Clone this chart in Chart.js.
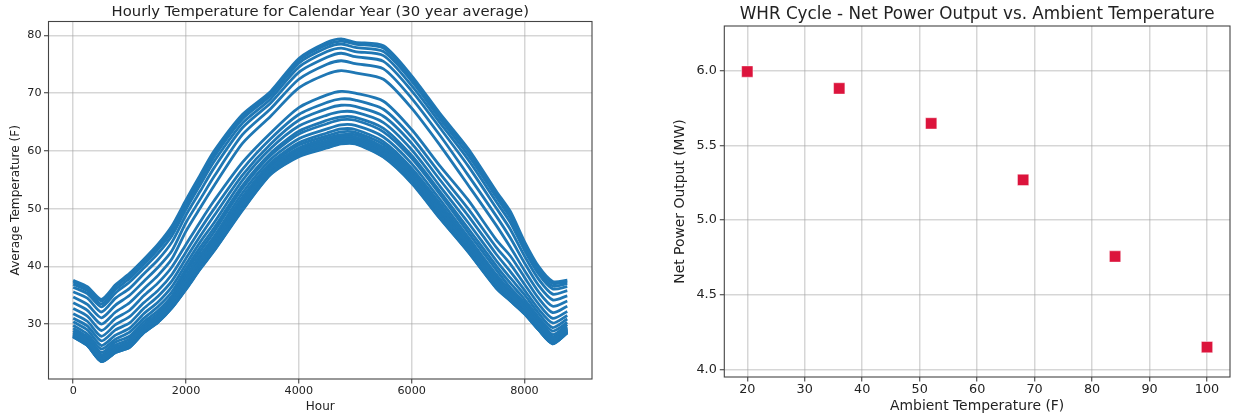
<!DOCTYPE html>
<html><head><meta charset="utf-8">
<script src="https://cdn.jsdelivr.net/npm/chart.js@4"></script>
<style>
html,body{margin:0;padding:0;background:#fff;width:1233px;height:419px;overflow:hidden}
#c1{position:absolute;left:0;top:0}
#c2{position:absolute;left:620px;top:0}
</style></head><body>
<canvas id="c1" width="600" height="419"></canvas>
<canvas id="c2" width="613" height="419"></canvas>
<script>
// ---- Left chart data (hour of year, average temperature of each daily-hour curve) ----
const hours = [0,250,500,750,1000,1250,1500,1750,2000,2250,2500,3000,3500,4000,4500,4750,5000,5500,6000,6500,7000,7500,7750,8000,8250,8500,8759];
const curve01 = [37.6,36.5,34.3,36.8,38.8,41.2,43.8,47.0,51.5,55.8,60.0,66.3,70.3,76.0,78.8,79.4,78.8,78.2,73.0,66.5,60.4,53.0,49.5,44.3,40.0,37.4,37.6];
const curve02 = [37.3,36.2,34.0,36.5,38.4,40.8,43.4,46.6,51.1,55.4,59.6,66.0,70.0,75.7,78.4,79.0,78.5,77.8,72.6,66.1,60.0,52.6,49.0,43.9,39.7,37.1,37.3];
const curve03 = [36.9,35.8,33.5,36.0,37.9,40.3,42.9,46.0,50.6,54.8,59.0,65.5,69.6,75.2,77.9,78.5,77.9,77.2,72.1,65.6,59.3,52.0,48.4,43.4,39.2,36.6,37.0];
const curve04 = [36.4,35.3,33.0,35.4,37.3,39.7,42.2,45.3,49.9,54.1,58.2,64.8,69.0,74.5,77.2,77.8,77.2,76.5,71.3,64.9,58.5,51.2,47.6,42.8,38.7,36.1,36.5];
const curve05 = [35.6,34.5,32.1,34.5,36.2,38.7,41.1,44.2,48.9,53.0,57.1,64.0,68.3,73.6,76.2,76.9,76.3,75.5,70.4,64.0,57.4,50.1,46.4,41.8,37.8,35.2,35.8];
const curve06 = [34.7,33.4,31.1,33.3,35.0,37.4,39.8,42.7,47.6,51.6,55.6,62.8,67.3,72.4,75.0,75.6,75.1,74.2,69.1,62.7,55.8,48.7,44.9,40.6,36.7,34.2,34.9];
const curve07 = [33.7,32.4,30.0,32.1,33.7,36.1,38.4,41.3,46.1,50.1,54.0,61.3,66.0,70.9,73.3,73.9,73.5,72.4,67.4,61.0,54.1,47.1,43.3,39.3,35.6,33.1,34.0];
const curve08 = [32.7,31.4,28.9,31.0,32.4,34.9,37.1,39.9,43.8,47.7,51.4,58.0,63.1,67.5,69.7,70.3,70.0,68.6,63.7,57.4,51.5,44.6,41.8,38.1,34.5,32.0,33.1];
const curve09 = [31.8,30.5,27.9,29.9,31.3,33.7,35.8,38.6,42.5,46.4,50.0,56.8,62.1,66.3,68.4,69.0,68.8,67.2,62.4,56.1,50.0,43.3,40.4,36.9,33.5,31.0,32.2];
const curve10 = [31.0,29.7,27.1,29.0,30.2,32.7,34.8,37.5,41.4,45.2,48.8,55.8,61.2,65.3,67.3,67.9,67.7,66.0,61.3,55.0,48.8,42.1,39.1,35.9,32.6,30.2,31.5];
const curve11 = [30.4,29.0,26.3,28.1,29.3,31.8,33.8,36.5,40.4,44.2,47.6,54.9,60.4,64.3,66.2,66.8,66.7,64.9,60.2,53.9,47.6,41.0,38.0,35.1,31.9,29.4,30.9];
const curve12 = [29.8,28.3,25.7,27.4,28.6,31.0,33.0,35.6,39.6,43.3,46.7,54.0,59.6,63.4,65.3,65.9,65.8,63.9,59.2,53.0,46.6,40.1,37.1,34.3,31.2,28.8,30.3];
const curve13 = [29.3,27.8,25.1,26.9,27.9,30.4,32.3,34.9,39.0,42.6,46.0,53.5,59.2,62.9,64.7,65.4,65.3,63.3,58.7,52.5,45.9,39.4,36.3,33.7,30.7,28.2,29.9];
const curve14 = [28.9,27.4,24.7,26.4,27.4,29.9,31.8,34.4,38.3,41.9,45.2,52.7,58.5,62.1,63.8,64.5,64.4,62.4,57.8,51.6,45.1,38.6,35.7,33.2,30.2,27.8,29.5];
const curve15 = [28.6,27.1,24.4,26.0,27.0,29.5,31.4,33.9,37.7,41.3,44.6,52.0,57.9,61.4,63.1,63.8,63.7,61.6,57.0,50.9,44.5,38.1,35.2,32.8,29.9,27.5,29.2];
const curve16 = [28.4,26.9,24.2,25.8,26.8,29.3,31.1,33.7,37.4,40.9,44.2,51.6,57.6,61.0,62.6,63.3,63.2,61.1,56.5,50.4,44.1,37.7,34.9,32.6,29.7,27.3,29.1];
const curve17 = [28.2,26.8,24.0,25.6,26.6,29.1,30.9,33.4,37.1,40.6,43.9,51.2,57.2,60.5,62.2,62.8,62.8,60.6,56.1,49.9,43.7,37.3,34.7,32.4,29.5,27.1,28.9];
const curve18 = [28.1,26.7,23.9,25.5,26.5,28.9,30.8,33.3,36.8,40.4,43.6,50.9,56.9,60.2,61.8,62.5,62.4,60.3,55.7,49.6,43.5,37.1,34.5,32.2,29.4,27.0,28.8];
const curve19 = [28.1,26.6,23.8,25.4,26.3,28.8,30.6,33.2,36.6,40.2,43.4,50.6,56.7,59.9,61.5,62.2,62.2,60.0,55.4,49.3,43.2,36.9,34.4,32.1,29.3,26.9,28.7];
const curve20 = [28.0,26.5,23.7,25.3,26.2,28.7,30.5,33.1,36.5,40.0,43.2,50.4,56.5,59.7,61.2,61.9,61.9,59.7,55.1,49.0,43.0,36.7,34.3,32.0,29.2,26.8,28.7];
const curve21 = [27.9,26.4,23.6,25.2,26.2,28.7,30.5,33.0,36.3,39.8,43.1,50.2,56.3,59.5,61.1,61.8,61.7,59.5,55.0,48.9,42.9,36.6,34.2,32.0,29.1,26.7,28.6];
const curve22 = [27.9,26.4,23.6,25.2,26.1,28.6,30.4,32.9,36.2,39.7,42.9,50.0,56.1,59.3,60.8,61.5,61.5,59.2,54.7,48.6,42.7,36.4,34.1,31.9,29.1,26.7,28.6];
const curve23 = [27.8,26.3,23.5,25.1,26.0,28.5,30.3,32.8,36.1,39.6,42.8,49.8,56.0,59.1,60.6,61.3,61.3,59.0,54.5,48.4,42.6,36.3,34.1,31.8,29.0,26.6,28.5];
const curve24 = [27.8,26.3,23.5,25.1,26.0,28.5,30.3,32.8,36.0,39.5,42.7,49.7,55.9,59.0,60.5,61.2,61.2,58.9,54.4,48.3,42.5,36.2,34.0,31.8,29.0,26.6,28.5];
const hourTicks = [0,2000,4000,6000,8000];
const tempTicks = [30,40,50,60,70,80];

// ---- Right chart data ----
const ambientTemps = [20,36,52,68,84,100];
const netPower = [5.995,5.882,5.648,5.27,4.757,4.15];
const ambientTicks = [20,30,40,50,60,70,80,90,100];
const powerTicks = [4.0,4.5,5.0,5.5,6.0];

const leftTitle = 'Hourly Temperature for Calendar Year (30 year average)';
const rightTitle = 'WHR Cycle - Net Power Output vs. Ambient Temperature';

const FAM = "'DejaVu Sans', sans-serif";
const TXT = '#222';
const GRID = 'rgba(165,165,165,0.45)';

function framePlugin(title, titleSize, titleY) {
  return {
    id: 'frame',
    afterDraw(chart) {
      const {ctx, chartArea: a} = chart;
      ctx.save();
      ctx.strokeStyle = '#444';
      ctx.lineWidth = 1.1;
      ctx.strokeRect(a.left, a.top, a.right - a.left, a.bottom - a.top);
      ctx.fillStyle = TXT;
      ctx.font = titleSize + 'px ' + FAM;
      ctx.textAlign = 'center';
      ctx.textBaseline = 'middle';
      ctx.fillText(title, (a.left + a.right) / 2, titleY);
      ctx.restore();
    }
  };
}

function axis(opts) {
  return {
    type: 'linear',
    min: opts.min, max: opts.max,
    z: 1,
    afterBuildTicks: s => { s.ticks = opts.ticks.map(v => ({value: v})); },
    afterFit: s => { if (opts.w !== undefined) s.width = opts.w; if (opts.h !== undefined) s.height = opts.h; },
    border: {display: false},
    grid: {color: GRID, lineWidth: 1.5, tickColor: '#333', tickWidth: 1, tickLength: 4.5},
    ticks: {color: TXT, font: {family: FAM, size: opts.tickSize}, padding: opts.tickPad,
            maxRotation: 0, autoSkip: false, callback: opts.fmt || (v => String(v))},
    title: {display: true, text: opts.title, color: TXT, font: {family: FAM, size: opts.titleSize},
            padding: opts.titlePad}
  };
}

const curves = [curve01,curve02,curve03,curve04,curve05,curve06,curve07,curve08,curve09,curve10,curve11,curve12,
                curve13,curve14,curve15,curve16,curve17,curve18,curve19,curve20,curve21,curve22,curve23,curve24];

new Chart(document.getElementById('c1'), {
  type: 'scatter',
  data: {
    datasets: curves.map(c => ({
      data: hours.map((h, i) => ({x: h, y: c[i]})),
      showLine: true, borderColor: '#1f77b4', backgroundColor: '#1f77b4',
      borderWidth: 2.8, pointRadius: 0, tension: 0.25, fill: false
    }))
  },
  options: {
    responsive: false, animation: false, events: [],
    layout: {autoPadding: false, padding: {top: 21.5, right: 8, left: 0, bottom: 0}},
    plugins: {legend: {display: false}, tooltip: {enabled: false}},
    scales: {
      x: axis({min: -438, max: 9197, ticks: hourTicks, h: 40, tickSize: 11.2, tickPad: 0.5,
               title: 'Hour', titleSize: 12, titlePad: {top: 0, bottom: 5}}),
      y: axis({min: 20.5, max: 82.4, ticks: tempTicks, w: 48.5, tickSize: 11.2, tickPad: 2.5,
               title: 'Average Temperature (F)', titleSize: 12.1, titlePad: {top: 8.6, bottom: 0}})
    }
  },
  plugins: [framePlugin(leftTitle, 14.8, 12)]
});

new Chart(document.getElementById('c2'), {
  type: 'scatter',
  data: {
    datasets: [{
      data: ambientTemps.map((t, i) => ({x: t, y: netPower[i]})),
      pointStyle: 'rect', pointRadius: 8, backgroundColor: '#DC143C',
      borderColor: 'rgba(255,255,255,0.45)', borderWidth: 1, showLine: false
    }]
  },
  options: {
    responsive: false, animation: false, events: [],
    layout: {autoPadding: false, padding: {top: 26, right: 3, left: 0, bottom: 0}},
    plugins: {legend: {display: false}, tooltip: {enabled: false}},
    scales: {
      x: axis({min: 16, max: 104, ticks: ambientTicks, h: 42, tickSize: 12.8, tickPad: 0.3,
               title: 'Ambient Temperature (F)', titleSize: 13.9, titlePad: {top: 0, bottom: 4.5}}),
      y: axis({min: 3.95, max: 6.3, ticks: powerTicks, w: 104.3, tickSize: 12.8, tickPad: 3,
               fmt: v => v.toFixed(1),
               title: 'Net Power Output (MW)', titleSize: 13.9, titlePad: {top: 52.2, bottom: 0}})
    }
  },
  plugins: [framePlugin(rightTitle, 16.8, 14.8)]
});
</script>
</body></html>
